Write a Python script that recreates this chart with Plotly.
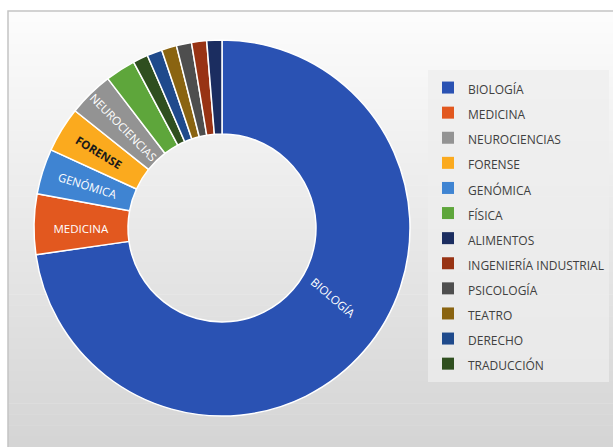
import math
import plotly.graph_objects as go

# Slices in drawing order (clockwise from 12 o'clock)
slice_labels = ["BIOLOGÍA", "MEDICINA", "GENÓMICA", "FORENSE", "NEUROCIENCIAS", "FÍSICA",
                "TRADUCCIÓN", "DERECHO", "TEATRO", "PSICOLOGÍA", "INGENIERÍA INDUSTRIAL", "ALIMENTOS"]
slice_values = [56, 4, 3, 3, 3, 2, 1, 1, 1, 1, 1, 1]
slice_text = ["", "MEDICINA", "GENÓMICA", "<b>FORENSE</b>", "NEUROCIENCIAS", "",
              "", "", "", "", "", ""]

# Legend order
legend_labels = ["BIOLOGÍA", "MEDICINA", "NEUROCIENCIAS", "FORENSE", "GENÓMICA", "FÍSICA",
                 "ALIMENTOS", "INGENIERÍA INDUSTRIAL", "PSICOLOGÍA", "TEATRO", "DERECHO", "TRADUCCIÓN"]

colors = {
    "BIOLOGÍA": "#2A52B3",
    "MEDICINA": "#E2581F",
    "NEUROCIENCIAS": "#939393",
    "FORENSE": "#FBAA1E",
    "GENÓMICA": "#3F84D2",
    "FÍSICA": "#5EA63B",
    "ALIMENTOS": "#1B2D60",
    "INGENIERÍA INDUSTRIAL": "#983314",
    "PSICOLOGÍA": "#4E4E4E",
    "TEATRO": "#8A6411",
    "DERECHO": "#1F4A8C",
    "TRADUCCIÓN": "#2F4F1F",
}
text_colors = ["white", "white", "white", "#1a1a1a", "white", "white",
               "white", "white", "white", "white", "white", "white"]

W, H = 613, 447
cx, cy, r = 222, 228, 188

fig = go.Figure()

# helper trace providing legend entries in the original legend order (hidden under the donut)
fig.add_trace(go.Pie(
    labels=[f'<span style="font-size:12px">{l}</span>' for l in legend_labels],
    values=[1] * len(legend_labels),
    marker=dict(colors=[colors[l] for l in legend_labels]),
    sort=False, textinfo="none", hoverinfo="skip",
    domain=dict(x=[330 / W, 331 / W], y=[1 - 331 / H, 1 - 330 / H]),
    showlegend=True,
))

fig.add_trace(go.Pie(
    labels=slice_labels,
    values=slice_values,
    text=slice_text,
    textinfo="text",
    textposition="inside",
    insidetextorientation="radial",
    textfont=dict(family="Open Sans", size=11.5, color=text_colors),
    marker=dict(colors=[colors[l] for l in slice_labels], line=dict(color="white", width=1.5)),
    hole=0.5,
    sort=False,
    direction="clockwise",
    rotation=0,
    domain=dict(x=[(cx - r) / W, (cx + r) / W], y=[1 - (cy + r) / H, 1 - (cy - r) / H]),
    showlegend=False,
))

# label for the large slice, placed at its mid angle (derived from the data)
total = sum(slice_values)
mid_deg = 0.5 * slice_values[0] / total * 360
rad = math.radians(mid_deg)
rr = 0.78 * r
lx = cx + rr * math.sin(rad)
ly = cy - rr * math.cos(rad)
fig.add_annotation(
    x=lx / W, y=1 - ly / H, xref="paper", yref="paper", showarrow=False,
    text=slice_labels[0], textangle=mid_deg - 90,
    font=dict(family="Open Sans", size=11.5, color="white"),
)

# background gradient
shapes = []
top = 1 - 11 / H
n = 40
c0, c1 = 252, 213
for i in range(n):
    y1 = top - i * top / n
    y0 = top - (i + 1) * top / n
    c = round(c0 + (c1 - c0) * (i + 0.5) / n)
    shapes.append(dict(type="rect", xref="paper", yref="paper", x0=8 / W, x1=1.01, y0=y0 - 0.001, y1=y1,
                       fillcolor=f"rgb({c},{c},{c})", line=dict(width=0), layer="below"))
shapes.append(dict(type="rect", xref="paper", yref="paper", x0=8 / W, x1=1.01, y0=-0.01, y1=top,
                   fillcolor="rgba(0,0,0,0)", line=dict(color="#c4c4c4", width=1.5), layer="below"))

fig.update_layout(
    width=W, height=H,
    margin=dict(l=0, r=0, t=0, b=0),
    paper_bgcolor="white",
    shapes=shapes,
    font=dict(family="Open Sans", color="#404040"),
    legend=dict(
        x=428 / W, xanchor="left", y=1 - 70 / H, yanchor="top",
        font=dict(family="Open Sans", size=17, color="#404040"),
        bgcolor="rgba(238,238,238,0.75)", borderwidth=0,
        itemwidth=30,
    ),
)

fig.write_html("out.html")
